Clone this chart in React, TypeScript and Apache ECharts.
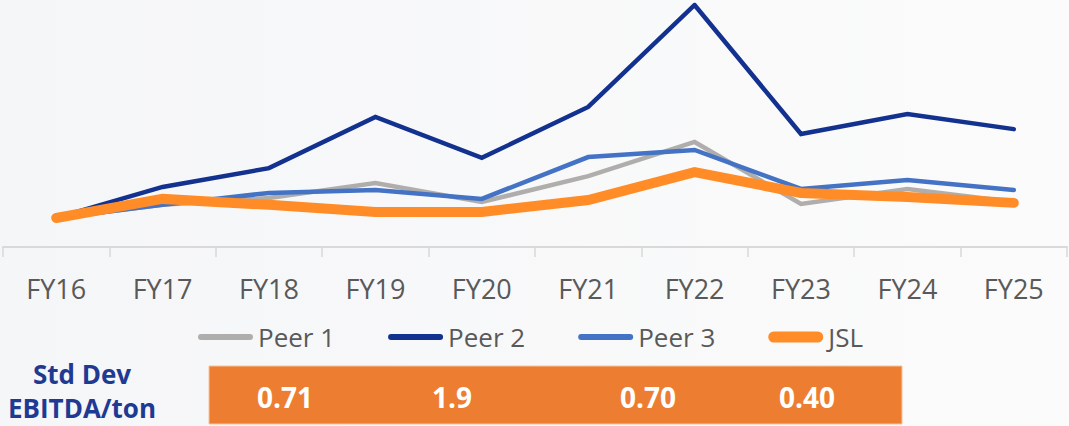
import React, { useEffect, useRef } from "react";
import * as echarts from "echarts";

const categories = ["FY16", "FY17", "FY18", "FY19", "FY20", "FY21", "FY22", "FY23", "FY24", "FY25"];
const peer1 = [1.02, 1.48, 1.72, 2.25, 1.58, 2.49, 3.69, 1.51, 2.04, 1.58];
const peer2 = [1.02, 2.11, 2.77, 4.57, 3.13, 4.92, 8.5, 3.97, 4.67, 4.14];
const peer3 = [1.02, 1.48, 1.9, 2.0, 1.69, 3.16, 3.41, 2.04, 2.35, 2.0];
const jsl = [1.02, 1.69, 1.48, 1.23, 1.23, 1.65, 2.63, 1.9, 1.76, 1.55];
const stdDevLabels = ["Std Dev", "EBITDA/ton"];
const stdDevValues = ["0.71", "1.9", "0.70", "0.40"];

// layout (pixels)
const stdDevX = [285, 452, 648, 807];
const FONT = "'Open Sans', 'Noto Sans', sans-serif";

// legend icons: rounded bars within a fixed 55x11 box (thin for peers, thick for JSL)
const thinIcon = "path://M0,0M55,11M3,2.5L52,2.5A3,3,0,0,1,52,8.5L3,8.5A3,3,0,0,1,3,2.5Z";
const thickIcon = "path://M0,0M55,11M5.5,0L49.5,0A5.5,5.5,0,0,1,49.5,11L5.5,11A5.5,5.5,0,0,1,5.5,0Z";

export default function App() {
  const ref = useRef<HTMLDivElement>(null);
  useEffect(() => {
    document.body.style.margin = "0";
    const chart = echarts.init(ref.current!, null, { renderer: "svg" });
    const lineSeries = (name: string, data: number[], color: string, width: number) => ({
      name,
      type: "line",
      data,
      symbol: "none",
      showSymbol: false,
      lineStyle: { color, width, cap: "round", join: "miter" },
      itemStyle: { color },
      emphasis: { disabled: true },
    });
    chart.setOption({
      animation: false,
      backgroundColor: {
        type: "linear",
        x: 0, y: 0, x2: 1, y2: 0,
        colorStops: [
          { offset: 0, color: "#f5f6f8" },
          { offset: 1, color: "#fbfbfb" },
        ],
      },
      textStyle: { fontFamily: FONT },
      grid: { left: 3, right: 2, top: 5, height: 242, containLabel: false, outerBoundsMode: "none" },
      xAxis: {
        type: "category",
        data: categories,
        boundaryGap: true,
        axisLine: { lineStyle: { color: "#d9d9d9", width: 2 } },
        axisTick: { show: true, length: 10, lineStyle: { color: "#d9d9d9", width: 1.5 } },
        axisLabel: { color: "#595959", fontSize: 27, fontFamily: FONT, margin: 28 },
      },
      yAxis: {
        type: "value",
        min: 0,
        max: 8.5,
        show: false,
        splitLine: { show: false },
      },
      legend: {
        left: 193,
        top: 319,
        itemWidth: 55,
        itemHeight: 11,
        itemGap: 53,
        symbolKeepAspect: false,
        textStyle: { color: "#595959", fontSize: 26, fontFamily: FONT },
        data: [
          { name: "Peer 1", icon: thinIcon },
          { name: "Peer 2", icon: thinIcon },
          { name: "Peer 3", icon: thinIcon },
          { name: "JSL", icon: thickIcon },
        ],
      },
      series: [
        lineSeries("Peer 1", peer1, "#b0aeac", 4.5),
        lineSeries("Peer 2", peer2, "#13318f", 4.5),
        lineSeries("Peer 3", peer3, "#4472c4", 4.5),
        lineSeries("JSL", jsl, "#ff8c26", 10),
      ],
      graphic: [
        ...stdDevLabels.map((t, i) => ({
          type: "text",
          x: 82,
          y: 374 + i * 34,
          style: {
            text: t,
            fill: "#1f3a93",
            font: `bold 26px ${FONT}`,
            align: "center",
            verticalAlign: "middle",
          },
        })),
        {
          type: "rect",
          shape: { x: 209, y: 366, width: 693, height: 58 },
          style: { fill: "#ed7d31", stroke: "#f6c3a0", lineWidth: 1 },
        },
        ...stdDevValues.map((v, i) => ({
          type: "text",
          x: stdDevX[i],
          y: 397,
          style: {
            text: v,
            fill: "#ffffff",
            font: `bold 28px ${FONT}`,
            align: "center",
            verticalAlign: "middle",
          },
        })),
      ],
    });
    return () => chart.dispose();
  }, []);
  return <div ref={ref} style={{ position: "absolute", left: 0, top: 0, width: 1069, height: 426 }} />;
}
